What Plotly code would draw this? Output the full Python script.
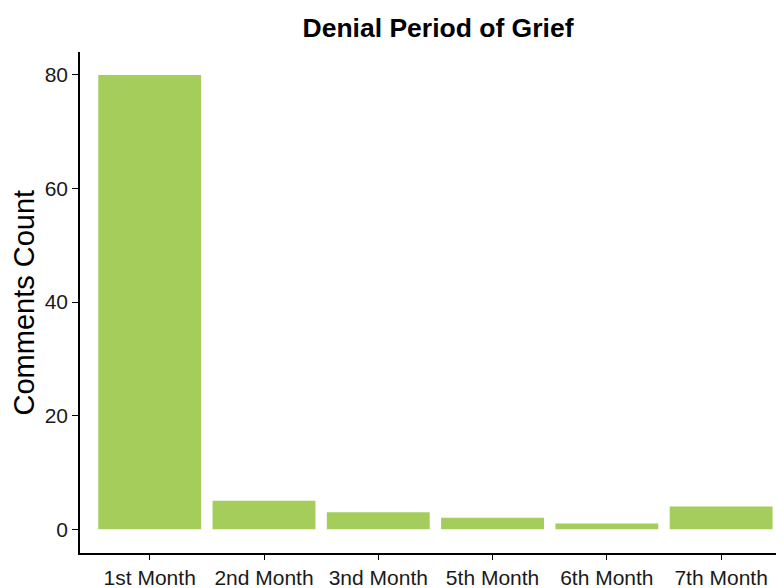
import plotly.graph_objects as go

months = ["1st Month", "2nd Month", "3nd Month", "5th Month", "6th Month", "7th Month"]
counts = [80, 5, 3, 2, 1, 4]
y_ticks = [0, 20, 40, 60, 80]

title_text = "Denial Period of Grief"
y_title = "Comments Count"

bar_color = "#A4CD5C"
font_family = "Liberation Sans, Arial, sans-serif"

# the page body has an 8px margin, so the figure is shrunk by 8px and margins reduced accordingly
OFF = 8
W, H = 784 - OFF, 588 - OFF
L, T, B = 80 - OFF, 52 - OFF, 35
PW = W - L

fig = go.Figure(
    go.Bar(x=months, y=counts, marker=dict(color=bar_color, line=dict(width=0)), width=0.9)
)

fig.update_layout(
    width=W,
    height=H,
    margin=dict(l=L, r=0, t=T, b=B, pad=0, autoexpand=False),
    paper_bgcolor="white",
    plot_bgcolor="white",
    showlegend=False,
    font=dict(family=font_family, color="#1a1a1a"),
    title=dict(
        text="<b>" + title_text + "</b>",
        font=dict(size=26.5, color="black", family=font_family),
        x=(438 - OFF) / W,
        xref="container",
        xanchor="center",
        y=1 - (28 - OFF) / H,
        yref="container",
        yanchor="middle",
    ),
    annotations=[
        dict(
            text=y_title,
            textangle=-90,
            x=-(80 - 23) / PW,
            xref="paper",
            y=0.5,
            yref="paper",
            xanchor="center",
            yanchor="middle",
            showarrow=False,
            font=dict(size=29, color="black", family=font_family),
        )
    ],
)

fig.update_xaxes(
    range=[-0.61, 5.55],
    automargin=False,
    showline=True,
    linecolor="black",
    linewidth=1.5,
    ticks="outside",
    ticklen=5,
    tickwidth=1.2,
    tickcolor="black",
    showgrid=False,
    zeroline=False,
    tickfont=dict(size=21, family=font_family, color="#1a1a1a"),
)
fig.update_yaxes(
    range=[-4.2, 84.05],
    automargin=False,
    tickvals=y_ticks,
    showline=True,
    linecolor="black",
    linewidth=1.5,
    ticks="outside",
    ticklen=6,
    tickwidth=1.2,
    tickcolor="black",
    showgrid=False,
    zeroline=False,
    tickfont=dict(size=21, family=font_family, color="#1a1a1a"),
)

fig.write_html("out.html")
